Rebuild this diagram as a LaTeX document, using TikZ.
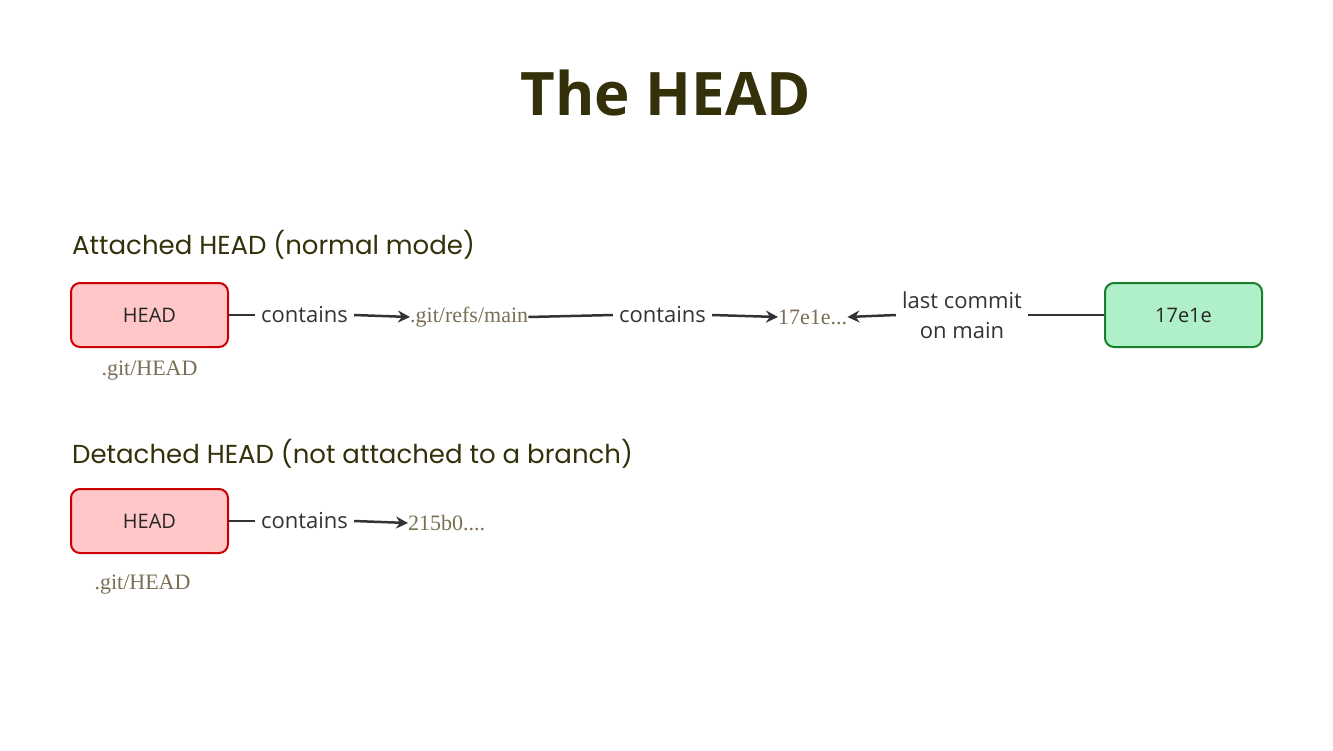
\documentclass[tikz,border=0pt]{standalone}
\usepackage{fontspec}
\setmainfont{Open Sans}
\newfontfamily\headf{Poppins}
\newfontfamily\codef{Liberation Serif}
\usetikzlibrary{arrows.meta}
\definecolor{titc}{HTML}{33300A}
\definecolor{linec}{HTML}{333333}
\definecolor{codec}{HTML}{7A6E55}
\begin{document}
\begin{tikzpicture}[x=1pt,y=-1pt,
  redbox/.style={draw=red!80!black,fill={rgb,255:red,255;green,199;blue,199},line width=2pt,rounded corners=9pt,minimum width=157pt,minimum height=64pt,font=\fontsize{20}{24}\selectfont,text=black!85},
  greenbox/.style={draw={rgb,255:red,26;green,127;blue,42},fill={rgb,255:red,176;green,240;blue,200},line width=2pt,rounded corners=9pt,minimum width=157pt,minimum height=64pt,font=\fontsize{20}{24}\selectfont,text=black!85},
  lbl/.style={font=\fontsize{22}{30}\selectfont,text=linec,inner sep=6pt,align=center},
  code/.style={font=\codef\fontsize{22}{26}\selectfont,text=codec,inner sep=0pt},
  head/.style={font=\headf\fontsize{26}{30}\selectfont,text=titc,anchor=west,inner sep=0pt},
  conn/.style={draw=linec,line width=2.5pt},
  arr/.style={conn,-{Stealth[length=12pt,width=12pt]}}]
\useasboundingbox (0,0) rectangle (1333,750);
\node[font=\bfseries\fontsize{60}{70}\selectfont,text=titc] (title) at (666,93) {The HEAD};
\node[head] (h1) at (72,245) {Attached HEAD (normal mode)};
\node[head] (h2) at (72,454) {Detached HEAD (not attached to a branch)};
% row 1
\node[redbox] (head1) at (149.5,315) {HEAD};
\node[code] (gh1) at (149.5,371) {.git/HEAD};
\node[lbl] (c1) at (304.5,315) {contains};
\node[code,anchor=west] (refs) at (410,317) {.git/refs/main};
\node[lbl] (c2) at (662.5,315) {contains};
\node[code,anchor=west] (sha) at (778,317) {17e1e...};
\node[lbl] (last) at (962,315) {last commit\\on main};
\node[greenbox] (g) at (1183.5,315) {17e1e};
\draw[conn] (head1.east) -- (c1.west);
\draw[arr] (c1.east) -- (refs.west);
\draw[conn] (refs.east) -- (c2.west);
\draw[arr] (c2.east) -- (sha.west);
\draw[conn] (g.west) -- (last.east);
\draw[arr] (last.west) -- (sha.east);
% row 2
\node[redbox] (head2) at (149.5,521) {HEAD};
\node[code] (gh2) at (142.5,585) {.git/HEAD};
\node[lbl] (c3) at (304.5,521) {contains};
\node[code,anchor=west] (sha2) at (408,523) {215b0....};
\draw[conn] (head2.east) -- (c3.west);
\draw[arr] (c3.east) -- (sha2.west);
\end{tikzpicture}
\end{document}
